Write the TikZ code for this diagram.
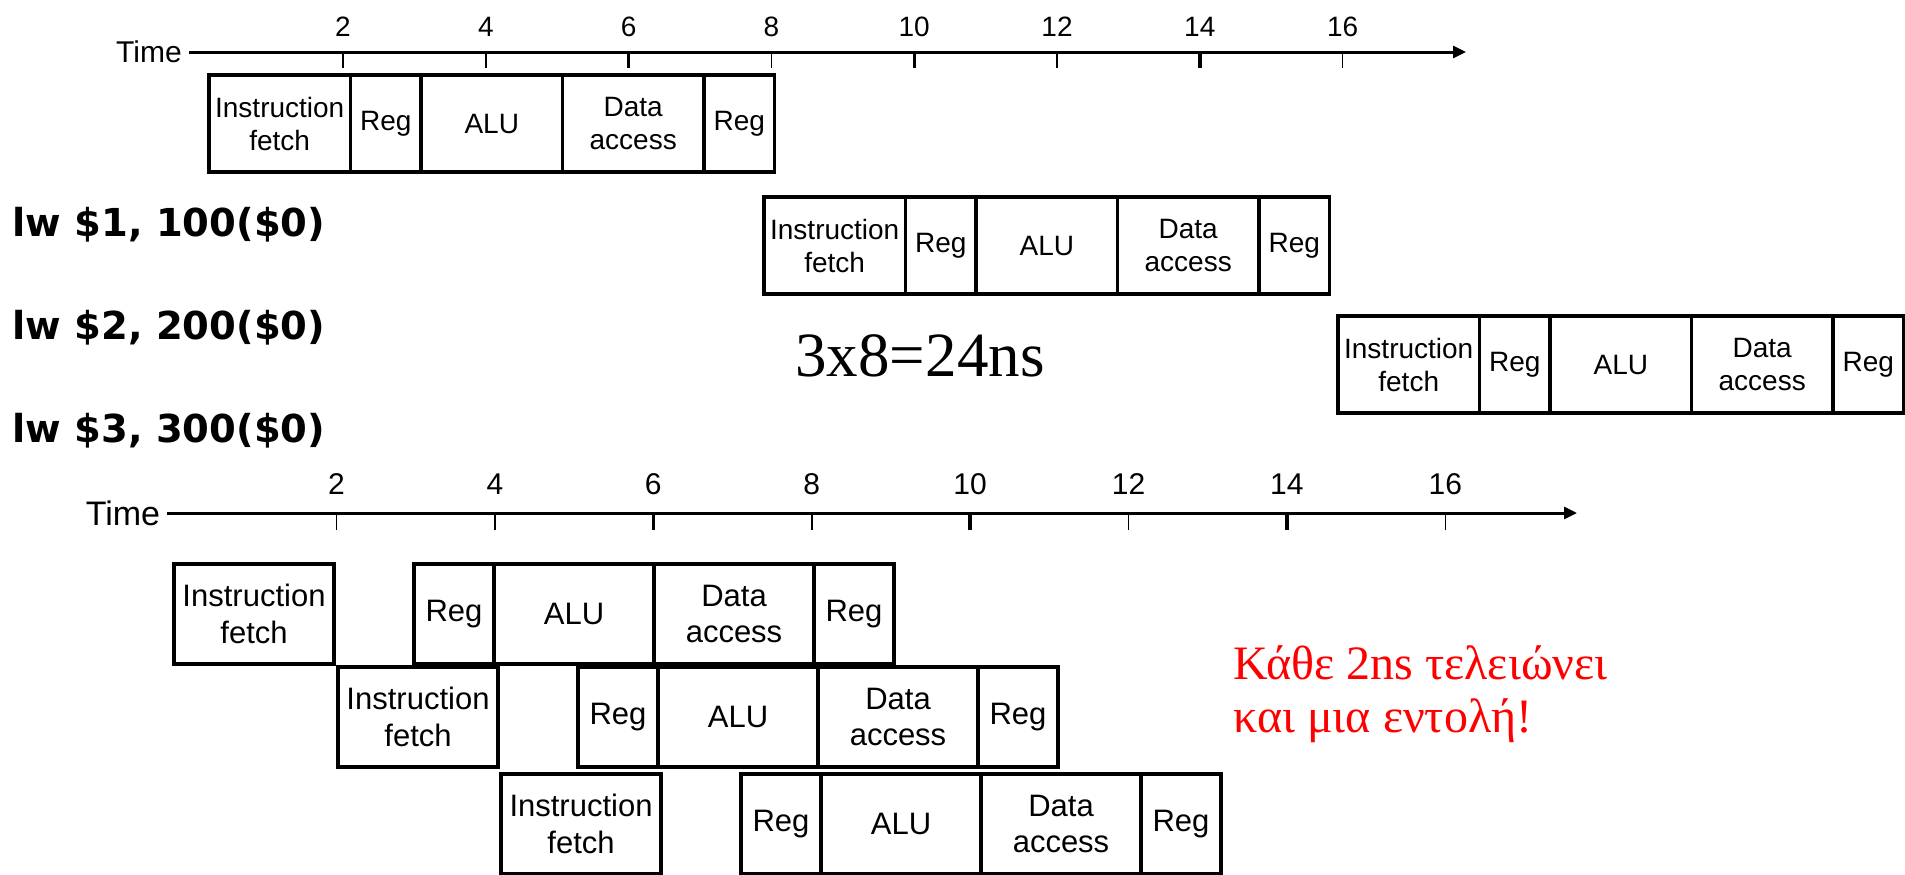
\documentclass[tikz,border=0pt]{standalone}
\usepackage{fontspec}
\setmainfont{Liberation Serif}
\setsansfont{Liberation Sans}
\newfontfamily\lwfont{DejaVu Sans}
\usetikzlibrary{arrows.meta, positioning}
\tikzset{
  >=Stealth,
  axisarrow/.style={-{Triangle[length=6.5pt, width=6pt]}, line width=1.5pt},
  tickline/.style={line width=0.8pt},
  boldtick/.style={line width=1.7pt},
  stagebox/.style={draw, line width=1.7pt, outer sep=0pt, inner sep=0pt, align=center},
  topstage/.style={stagebox, minimum height=48.5pt, font=\sffamily\fontsize{14}{16.5}\selectfont},
  botstage/.style={stagebox, minimum height=50pt, font=\sffamily\fontsize{15.5}{18.2}\selectfont},
  tone/.style={minimum width=35.35pt},
  ttwo/.style={minimum width=70.7pt},
  bone/.style={minimum width=40pt},
  btwo/.style={minimum width=80pt},
  lwlabel/.style={anchor=west, inner sep=0pt, font=\lwfont\bfseries\fontsize{19.25}{22}\selectfont}
}

\begin{document}
\begin{tikzpicture}[x=0.5pt, y=-0.5pt]
    \useasboundingbox (0,0) rectangle (1905,874);

    % single-cycle time axis
    \node (time1) [font=\sffamily\fontsize{15}{18}\selectfont] at (149,52) {Time};
    \coordinate (end1) at (1466,52);
    \draw[axisarrow] (time1) -- (end1);
    \foreach \t in {2,4,...,16}
        \node (tk1-\t) [font=\sffamily\fontsize{14}{16}\selectfont] at ({343+71.4*(\t-2)},27) {\t};
    \foreach \t in {2,4,8,12,16}
        \draw[tickline] ({343+71.4*(\t-2)},52) -- ++(0,16);
    \foreach \t in {6,10,14}
        \draw[boldtick] ({343+71.4*(\t-2)},52) -- ++(0,16);

    % lw #1
    \node (r1if) [topstage, ttwo, anchor=north west] at (209,75) {Instruction\\fetch};
    \node (r1rga) [topstage, tone, right=0pt of r1if] {Reg};
    \node (r1alu) [topstage, ttwo, right=0pt of r1rga] {ALU};
    \node (r1mem) [topstage, ttwo, right=0pt of r1alu] {Data\\access};
    \node (r1rgb) [topstage, tone, right=0pt of r1mem] {Reg};

    % lw #2
    \node (r2if) [topstage, ttwo, anchor=north west] at (764,197) {Instruction\\fetch};
    \node (r2rga) [topstage, tone, right=0pt of r2if] {Reg};
    \node (r2alu) [topstage, ttwo, right=0pt of r2rga] {ALU};
    \node (r2mem) [topstage, ttwo, right=0pt of r2alu] {Data\\access};
    \node (r2rgb) [topstage, tone, right=0pt of r2mem] {Reg};

    % lw #3
    \node (r3if) [topstage, ttwo, anchor=north west] at (1338,316) {Instruction\\fetch};
    \node (r3rga) [topstage, tone, right=0pt of r3if] {Reg};
    \node (r3alu) [topstage, ttwo, right=0pt of r3rga] {ALU};
    \node (r3mem) [topstage, ttwo, right=0pt of r3alu] {Data\\access};
    \node (r3rgb) [topstage, tone, right=0pt of r3mem] {Reg};

    \node (lw1) [lwlabel] at (12,225) {lw \$1, 100(\$0)};
    \node (lw2) [lwlabel] at (12,328) {lw \$2, 200(\$0)};
    \node (lw3) [lwlabel] at (12,431) {lw \$3, 300(\$0)};

    \node (total) [font=\fontsize{31.5}{36}\selectfont] at (920,356) {3x8=24ns};

    % pipelined time axis
    \node (time2) [font=\sffamily\fontsize{17}{20}\selectfont] at (123,513) {Time};
    \coordinate (end2) at (1577,513);
    \draw[axisarrow] (time2) -- (end2);
    \foreach \t in {2,4,...,16}
        \node (tk2-\t) [font=\sffamily\fontsize{15}{18}\selectfont] at ({336.5+79.2*(\t-2)},484) {\t};
    \foreach \t in {2,4,8,12,16}
        \draw[tickline] ({336.5+79.2*(\t-2)},513) -- ++(0,17);
    \foreach \t in {6,10,14}
        \draw[boldtick] ({336.5+79.2*(\t-2)},513) -- ++(0,17);

    % pipelined lw #1
    \node (p1if) [botstage, btwo, anchor=north west] at (174,564) {Instruction\\fetch};
    \node (p1rga) [botstage, bone, right=40pt of p1if] {Reg};
    \node (p1alu) [botstage, btwo, right=0pt of p1rga] {ALU};
    \node (p1mem) [botstage, btwo, right=0pt of p1alu] {Data\\access};
    \node (p1rgb) [botstage, bone, right=0pt of p1mem] {Reg};

    % pipelined lw #2
    \node (p2if) [botstage, btwo, anchor=north west] at (338,667) {Instruction\\fetch};
    \node (p2rga) [botstage, bone, right=40pt of p2if] {Reg};
    \node (p2alu) [botstage, btwo, right=0pt of p2rga] {ALU};
    \node (p2mem) [botstage, btwo, right=0pt of p2alu] {Data\\access};
    \node (p2rgb) [botstage, bone, right=0pt of p2mem] {Reg};

    % pipelined lw #3
    \node (p3if) [botstage, btwo, anchor=north west] at (501,774) {Instruction\\fetch};
    \node (p3rga) [botstage, bone, right=40pt of p3if] {Reg};
    \node (p3alu) [botstage, btwo, right=0pt of p3rga] {ALU};
    \node (p3mem) [botstage, btwo, right=0pt of p3alu] {Data\\access};
    \node (p3rgb) [botstage, bone, right=0pt of p3mem] {Reg};

    \node (note) [text=red, align=left, anchor=west, inner sep=0pt, font=\fontsize{24}{26.5}\selectfont] at (1233,694) {Κάθε 2ns τελειώνει\\και μια εντολή!};
\end{tikzpicture}
\end{document}
